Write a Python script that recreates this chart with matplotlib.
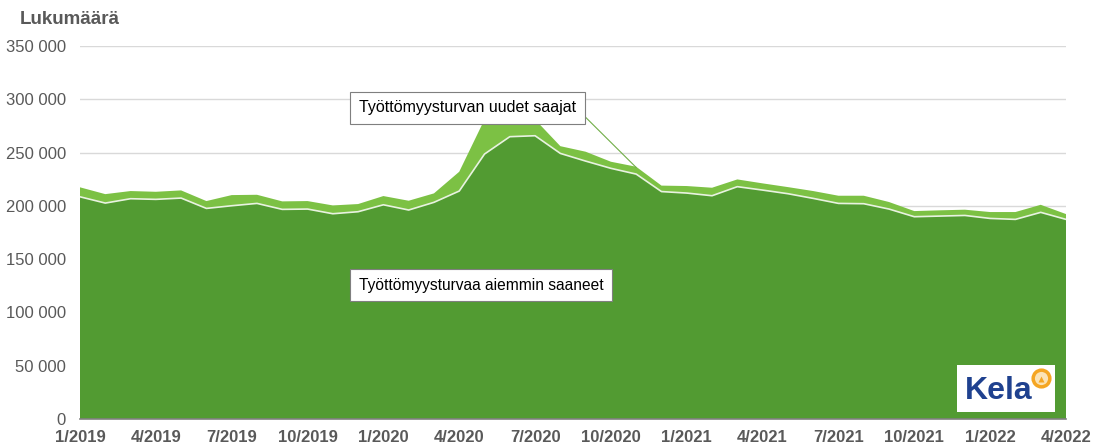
import numpy as np
import matplotlib.pyplot as plt
from matplotlib.patches import Rectangle

plt.rcParams['font.family'] = ['Liberation Sans', 'DejaVu Sans']

# Monthly values 1/2019 - 4/2022
aiemmin = [208500, 202600, 206700, 206100, 207300, 197600, 200100, 202300, 196700, 197000,
           192600, 194500, 201000, 196100, 203300, 213900, 248600, 264900, 265800, 249200,
           242000, 235200, 229800, 213400, 212000, 209500, 218000, 214800, 211400, 207000,
           202300, 202000, 197000, 189800, 190400, 191000, 188200, 187300, 193900, 187300]
yhteensa = [217400, 211000, 213900, 213200, 214500, 204500, 210100, 210400, 204200, 204500,
            200400, 201700, 209200, 204800, 211700, 232000, 281000, 284000, 281000, 256000,
            250800, 241400, 236700, 219000, 218600, 217000, 224800, 221100, 217600, 213900,
            209500, 209500, 203600, 195100, 195800, 196400, 194200, 194200, 201000, 192300]
uudet = [t - a for t, a in zip(yhteensa, aiemmin)]

labels = ['1/2019', '4/2019', '7/2019', '10/2019', '1/2020', '4/2020', '7/2020',
          '10/2020', '1/2021', '4/2021', '7/2021', '10/2021', '1/2022', '4/2022']

dark = '#529B32'
light = '#7CC144'
x = np.arange(len(aiemmin))

fig = plt.figure(figsize=(11.02, 4.48), dpi=100)
ax = fig.add_axes([80/1102, 29/448, (1066-80)/1102, (419-46)/448])

ax.stackplot(x, aiemmin, uudet, colors=[dark, light], linewidth=0)
ax.plot(x, aiemmin, color='#E8F2E0', lw=1.2)

ax.set_xlim(0, len(x) - 1)
ax.set_ylim(0, 350000)
ax.set_yticks(np.arange(0, 350001, 50000))
ax.set_yticklabels([f'{v:,}'.replace(',', ' ') for v in range(0, 350001, 50000)],
                   color='#595959', fontsize=12)
ax.set_xticks(np.arange(0, len(x), 3))
ax.set_xticklabels(labels, fontsize=12, fontweight='bold', color='#595959')
ax.tick_params(axis='both', length=0)
ax.tick_params(axis='y', pad=10)
ax.tick_params(axis='x', pad=8)
ax.grid(axis='y', color='#D9D9D9', lw=1)
ax.set_axisbelow(True)
for s in ['top', 'right', 'left']:
    ax.spines[s].set_visible(False)
ax.spines['bottom'].set_color('#808080')
ax.spines['bottom'].set_linewidth(1.2)

fig.text(20/1102, 1 - 19/448, 'Lukumäärä', fontsize=13.5, fontweight='bold',
         color='#595959', va='center')

# annotation boxes
box = dict(boxstyle='square,pad=0.55', fc='white', ec='#7F7F7F', lw=0.8)
ax.annotate('Työttömyysturvan uudet saajat', xy=(22, 236000), xytext=(0.283, 0.834),
            textcoords='axes fraction', fontsize=11.5, bbox=box, va='center', ha='left',
            arrowprops=dict(arrowstyle='-', color='#70AD47', lw=0.8,
                            shrinkA=0, shrinkB=0, relpos=(1, 0.5)))
ax.text(0.283, 0.359, 'Työttömyysturvaa aiemmin saaneet', transform=ax.transAxes,
        fontsize=11.2, bbox=box, va='center', ha='left')

# Kela logo
ax.add_patch(Rectangle((0.889, 0.019), 0.1, 0.126, transform=ax.transAxes,
                       fc='white', ec='none', zorder=5))
ax.text(0.897, 0.075, 'Kela', transform=ax.transAxes, fontsize=23, fontweight='bold',
        color='#1F418F', va='center', ha='left', zorder=6)
ax.plot([0.975], [0.109], transform=ax.transAxes, marker='o', ms=12, mfc='#FBE3B5',
        mec='#F5A623', mew=2.5, zorder=7, clip_on=False)
ax.plot([0.975], [0.106], transform=ax.transAxes, marker='^', ms=4, mfc='#F5A623',
        mec='none', zorder=8, clip_on=False)

fig.savefig('out.png', dpi=100)
